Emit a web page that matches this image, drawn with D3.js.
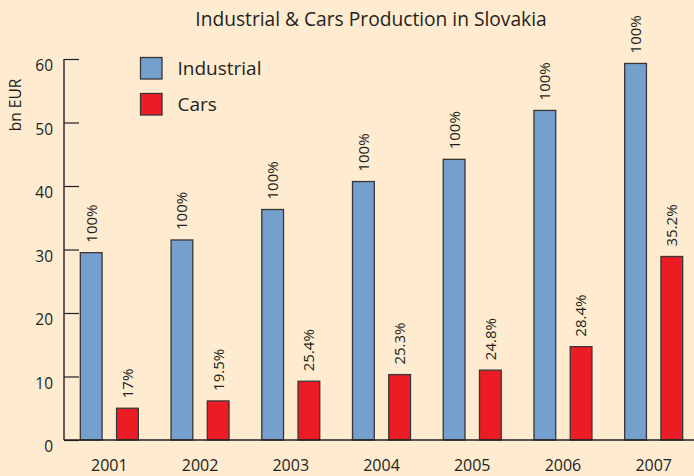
<!DOCTYPE html>
<html>
<head>
<meta charset="utf-8">
<script src="https://cdn.jsdelivr.net/npm/d3@7"></script>
<style>
  body { margin: 0; background: #feebd0; }
  svg { display: block; font-family: "Open Sans", sans-serif; fill: #231f20; }
</style>
</head>
<body>
<div id="d3-container"></div>
<script>
/* CONSTANTS AND GLOBALS */
const width = 694,
  height = 476,
  margin = { top: 59, bottom: 36, left: 64, right: -5 };

/* DATA */
const years = ["2001", "2002", "2003", "2004", "2005", "2006", "2007"];
const series = ["Industrial", "Cars"];
const industrial = [29.5, 31.5, 36.3, 40.7, 44.2, 51.9, 59.3];
const cars = [5.0, 6.15, 9.25, 10.3, 11.0, 14.7, 28.9];
const industrialLabels = ["100%", "100%", "100%", "100%", "100%", "100%", "100%"];
const carsLabels = ["17%", "19.5%", "25.4%", "25.3%", "24.8%", "28.4%", "35.2%"];
const yTicks = [0, 10, 20, 30, 40, 50, 60];

const colors = { Industrial: "#759fcd", Cars: "#ec1c24" };

// flatten into one row per bar
const bars = [];
years.forEach((y, i) => {
  bars.push({ year: y, key: "Industrial", value: industrial[i], label: industrialLabels[i] });
  bars.push({ year: y, key: "Cars", value: cars[i], label: carsLabels[i] });
});

/* SCALES */
const xScale = d3
  .scaleBand()
  .domain(years)
  .range([margin.left, width - margin.right])
  .paddingInner(0.361)
  .paddingOuter(0.18);

const xSub = d3
  .scaleBand()
  .domain(series)
  .range([0, xScale.bandwidth()])
  .paddingInner(0.4)
  .paddingOuter(0);

const yScale = d3
  .scaleLinear()
  .domain([0, 60])
  .range([height - margin.bottom, margin.top]);

/* SVG */
const svg = d3
  .select("#d3-container")
  .append("svg")
  .attr("width", width)
  .attr("height", height);

svg.append("rect")
  .attr("width", width)
  .attr("height", height)
  .attr("fill", "#feebd0");

// title
svg.append("text")
  .attr("x", 371)
  .attr("y", 26)
  .attr("text-anchor", "middle")
  .attr("font-size", 19.2)
  .text("Industrial & Cars Production in Slovakia");

// y axis (ticks point inward)
const yAxis = d3.axisLeft(yScale)
  .tickValues(yTicks)
  .tickSize(-15)
  .tickPadding(11)
  .tickFormat(d3.format("d"));

const yG = svg.append("g")
  .attr("transform", `translate(${margin.left},0)`)
  .call(yAxis);
yG.select(".domain")
  .attr("d", `M0,${yScale(60)}V${yScale(0)}`)
  .attr("stroke", "#231f20")
  .attr("stroke-width", 1.4);
yG.selectAll(".tick line").attr("stroke", "#231f20").attr("stroke-width", 1.2);
yG.selectAll(".tick text")
  .attr("dy", "0.76em")
  .attr("font-size", 15.5)
  .attr("font-family", "Open Sans, sans-serif")
  .attr("fill", "#231f20");

svg.append("text")
  .attr("transform", `translate(21,105) rotate(-90)`)
  .attr("text-anchor", "middle")
  .attr("font-size", 15.5)
  .text("bn EUR");

// bars
svg.append("g")
  .selectAll("rect.bar")
  .data(bars)
  .join("rect")
  .attr("class", "bar")
  .attr("x", d => xScale(d.year) + xSub(d.key))
  .attr("y", d => yScale(d.value))
  .attr("width", xSub.bandwidth())
  .attr("height", d => yScale(0) - yScale(d.value))
  .attr("fill", d => colors[d.key])
  .attr("stroke", "#3a3536")
  .attr("stroke-width", 1.3);

// value labels, rotated
svg.append("g")
  .selectAll("text")
  .data(bars)
  .join("text")
  .attr("transform", d =>
    `translate(${xScale(d.year) + xSub(d.key) + xSub.bandwidth() / 2},${yScale(d.value) - 10}) rotate(-90)`)
  .attr("dy", "0.36em")
  .attr("font-size", 15)
  .text(d => d.label);

// x axis baseline + year labels
svg.append("line")
  .attr("x1", margin.left)
  .attr("x2", width)
  .attr("y1", yScale(0))
  .attr("y2", yScale(0))
  .attr("stroke", "#231f20")
  .attr("stroke-width", 1.4);

svg.append("g")
  .selectAll("text")
  .data(years)
  .join("text")
  .attr("x", d => xScale(d) + xScale.bandwidth() / 2)
  .attr("y", yScale(0) + 31)
  .attr("text-anchor", "middle")
  .attr("font-size", 16)
  .text(d => d);

// legend
const legend = svg.append("g")
  .selectAll("g")
  .data(series)
  .join("g")
  .attr("transform", (d, i) => `translate(140.5,${57.5 + i * 36})`);

legend.append("rect")
  .attr("width", 21.5)
  .attr("height", 21.5)
  .attr("fill", d => colors[d])
  .attr("stroke", "#3a3536")
  .attr("stroke-width", 1.3);

legend.append("text")
  .attr("x", 37)
  .attr("y", 17.5)
  .attr("font-size", 19)
  .text(d => d);
</script>
</body>
</html>
